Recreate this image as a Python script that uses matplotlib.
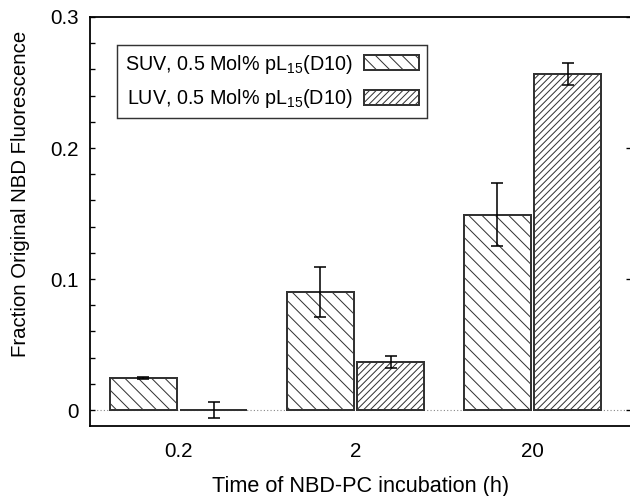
import matplotlib
matplotlib.use("Agg")
import matplotlib.pyplot as plt
import numpy as np

plt.rcParams['font.family'] = ['Liberation Sans', 'DejaVu Sans']
plt.rcParams['mathtext.fontset'] = 'custom'
plt.rcParams['mathtext.rm'] = 'Liberation Sans'
plt.rcParams['hatch.linewidth'] = 0.9

categories = ['0.2', '2', '20']
suv_values = [0.0245, 0.090, 0.149]
suv_errors = [0.0008, 0.019, 0.024]
luv_values = [0.0, 0.0363, 0.2565]
luv_errors = [0.0063, 0.0046, 0.0086]
series_labels = ['SUV, 0.5 Mol% pL$_{\\mathregular{15}}$(D10)',
                 'LUV, 0.5 Mol% pL$_{\\mathregular{15}}$(D10)']
y_ticks = [0, 0.1, 0.2, 0.3]
y_tick_labels = ['0', '0.1', '0.2', '0.3']

DPI = 80
fig = plt.figure(figsize=(630 / DPI, 496 / DPI), dpi=DPI)
ax = fig.add_axes([90 / 630, 70 / 496, 541 / 630, 409 / 496])

x = np.arange(len(categories))
width = 0.38
off = 0.199
edge = '#333333'

ax.axhline(0, color='#888888', lw=1.0, ls=(0, (1, 2)), zorder=1)

b1 = ax.bar(x - off, suv_values, width, facecolor='white', edgecolor=edge,
            linewidth=1.8, hatch='\\\\', label=series_labels[0], zorder=2)
b2 = ax.bar(x + off, luv_values, width, facecolor='white', edgecolor=edge,
            linewidth=1.8, hatch='////', label=series_labels[1], zorder=2)
ax.errorbar(x - off, suv_values, yerr=suv_errors, fmt='none', ecolor='black',
            elinewidth=1.4, capsize=5.5, capthick=1.4, zorder=3)
ax.errorbar(x + off, luv_values, yerr=luv_errors, fmt='none', ecolor='black',
            elinewidth=1.4, capsize=5.5, capthick=1.4, zorder=3)

ax.set_xlim(-0.5, 2.556)
ax.set_ylim(-0.0122, 0.3)
ax.set_xticks(x)
ax.set_xticklabels(categories, fontsize=18.5)
ax.tick_params(axis='x', length=0, pad=14)
ax.set_yticks(y_ticks)
ax.set_yticklabels(y_tick_labels, fontsize=18.5)
ax.set_yticks(np.arange(0.02, 0.3, 0.02)[[0, 1, 2, 3, 5, 6, 7, 8, 10, 11, 12, 13]], minor=True)
ax.tick_params(axis='y', which='both', direction='in', length=4.5, width=1.2,
               pad=10, right=True, left=True)
ax.tick_params(axis='y', which='minor', right=False)

for s in ['left', 'top', 'bottom']:
    ax.spines[s].set_linewidth(1.6)
    ax.spines[s].set_color('black')
ax.spines['right'].set_visible(False)

ax.set_xlabel('Time of NBD-PC incubation (h)', fontsize=19.5, labelpad=14)
ax.set_ylabel('Fraction Original NBD Fluorescence', fontsize=18.3, labelpad=16)
ax.yaxis.set_label_coords(-0.111, 0.567)

leg = ax.legend(loc='upper left', bbox_to_anchor=(0.05, 0.9315), borderaxespad=0,
                fontsize=17.8, markerfirst=False, fancybox=False, framealpha=1,
                edgecolor='#333333', handlelength=2.8, handleheight=0.8,
                handletextpad=0.6, labelspacing=0.6, borderpad=0.38)
leg.get_frame().set_linewidth(1.3)

fig.savefig('out.png', dpi=DPI)
